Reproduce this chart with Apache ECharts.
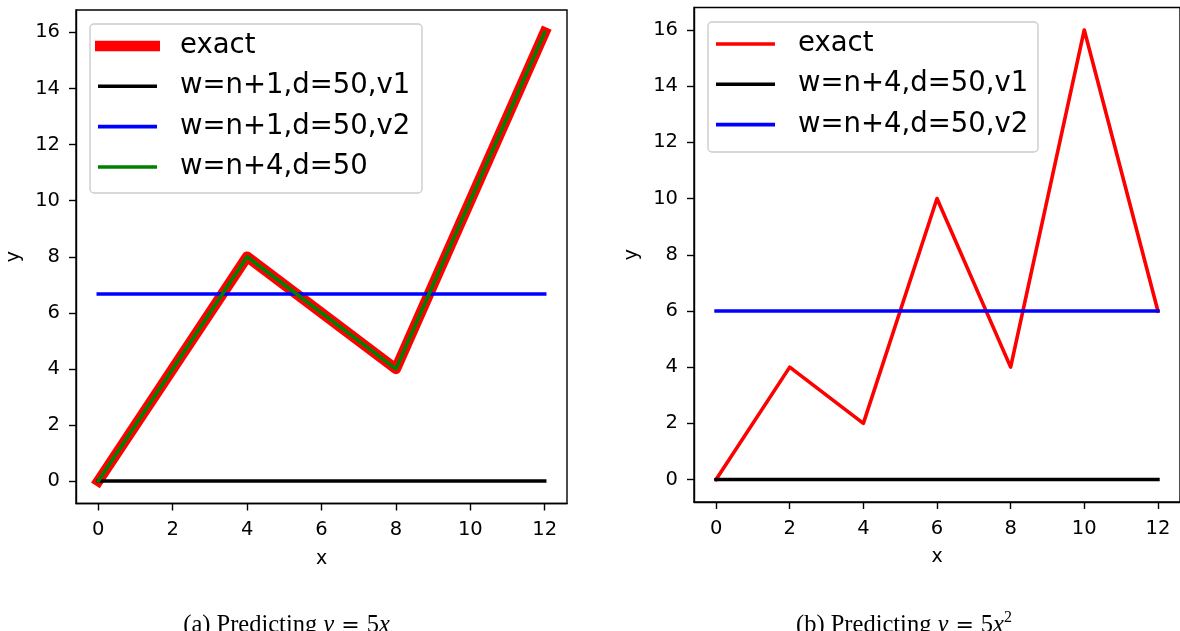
<!DOCTYPE html>
<html>
<head>
<meta charset="utf-8">
<script src="https://cdn.jsdelivr.net/npm/echarts@6/dist/echarts.min.js"></script>
<style>
html,body{margin:0;padding:0;background:#fff;}
#c{width:1180px;height:631px;}
</style>
</head>
<body>
<div id="c"></div>
<script>
// ---- data ----
const xTicks = [0, 2, 4, 6, 8, 10, 12];
const yTicks = [0, 2, 4, 6, 8, 10, 12, 14, 16];

const xA = [0, 4, 8, 12];
const exactA = [0, 8, 4, 16];
const n1v1A = [0, 0, 0, 0];
const n1v2A = [6.67, 6.67, 6.67, 6.67];
const n4A = [0, 8, 4, 16];
const namesA = ['exact', 'w=n+1,d=50,v1', 'w=n+1,d=50,v2', 'w=n+4,d=50'];

const xB = [0, 2, 4, 6, 8, 10, 12];
const exactB = [0, 4, 2, 10, 4, 16, 6];
const n4v1B = [0, 0, 0, 0, 0, 0, 0];
const n4v2B = [6, 6, 6, 6, 6, 6, 6];
const namesB = ['exact ', 'w=n+4,d=50,v1', 'w=n+4,d=50,v2'];

const captionA = '{n|(a) Predicting }{i|y}{e| = }{n|5}{i|x}';
const captionB = '{n|(b) Predicting }{i|y}{e| = }{n|5}{i|x}{s|2}';

// ---- layout ----
const panels = [
  {left: 76, top: 10, width: 491, height: 493.5, boxL: 90, boxT: 24, boxW: 332, boxH: 169, rows: [46, 86.3, 126.6, 167], capX: 286.5},
  {left: 694, top: 7.5, width: 491, height: 494.5, boxL: 708, boxT: 22, boxW: 330, boxH: 130, rows: [44, 84.3, 124.6], capX: 904}
];
const FONT = 'DejaVu Sans';

function pairs(xs, ys) { return xs.map((x, i) => [x, ys[i]]); }

const grids = [], xAxes = [], yAxes = [], series = [], legends = [], graphics = [];

panels.forEach((p, gi) => {
  grids.push({left: p.left, top: p.top, width: p.width, height: p.height, show: true,
    borderColor: '#000', borderWidth: 1.4, backgroundColor: 'transparent'});
  xAxes.push({type: 'value', gridIndex: gi, min: -0.6, max: 12.6,
    name: 'x', nameLocation: 'middle', nameGap: 46,
    nameTextStyle: {fontFamily: FONT, fontSize: 19, color: '#000'},
    axisLine: {show: true, onZero: false, lineStyle: {color: '#000', width: 1.4}},
    axisTick: {show: true, length: 7, lineStyle: {color: '#000', width: 1.4}, customValues: xTicks},
    axisLabel: {fontFamily: FONT, fontSize: 19.5, color: '#000', margin: 16.5, customValues: xTicks},
    splitLine: {show: false}});
  yAxes.push({type: 'value', gridIndex: gi, min: -0.8, max: 16.8,
    name: 'y', nameLocation: 'middle', nameGap: 52,
    nameTextStyle: {fontFamily: FONT, fontSize: 19, color: '#000'},
    axisLine: {show: true, onZero: false, lineStyle: {color: '#000', width: 1.4}},
    axisTick: {show: true, length: 7, lineStyle: {color: '#000', width: 1.4}, customValues: yTicks},
    axisLabel: {fontFamily: FONT, fontSize: 19.5, color: '#000', margin: 16, customValues: yTicks},
    splitLine: {show: false}});
  graphics.push({type: 'rect', z: 50, shape: {x: p.boxL, y: p.boxT, width: p.boxW, height: p.boxH, r: 4},
    style: {fill: 'rgba(255,255,255,0.8)', stroke: '#cccccc', lineWidth: 1.4}});
});

function addLine(gi, name, xs, ys, color, width, z) {
  series.push({type: 'line', name: name, xAxisIndex: gi, yAxisIndex: gi, data: pairs(xs, ys),
    color: color, symbol: 'none', showSymbol: false, z: z, silent: true,
    lineStyle: {color: color, width: width, cap: 'square', join: 'round'},
    itemStyle: {color: color}});
}
addLine(0, namesA[0], xA, exactA, '#ff0000', 10.5, 2);
addLine(0, namesA[1], xA, n1v1A, '#000000', 3.6, 3);
addLine(0, namesA[2], xA, n1v2A, '#0000ff', 3.6, 4);
addLine(0, namesA[3], xA, n4A, '#008000', 3.6, 5);
addLine(1, namesB[0], xB, exactB, '#ff0000', 3.6, 2);
addLine(1, namesB[1], xB, n4v1B, '#000000', 3.6, 3);
addLine(1, namesB[2], xB, n4v2B, '#0000ff', 3.6, 4);

const thick = {'exact': true};
[namesA, namesB].forEach((names, gi) => {
  const p = panels[gi];
  names.forEach((nm, ri) => {
    const isThick = !!thick[nm];
    const iw = isThick ? 65 : 59;
    const ih = isThick ? 10.5 : 3.6;
    const il = isThick ? p.boxL + 5 : p.boxL + 8;
    const pad = p.boxL + 90 - (il + iw + 5);
    legends.push({show: true, data: [nm], left: il, top: p.rows[ri] - 15, padding: 0,
      icon: 'rect', itemWidth: iw, itemHeight: ih, selectedMode: false, z: 60,
      formatter: (n) => n.trim(),
      textStyle: {fontFamily: FONT, fontSize: 27.5, color: '#000', lineHeight: 30, padding: [0, 0, 0, pad]}});
  });
});

const SERIF = 'Liberation Serif';
const rich = {
  n: {fontFamily: SERIF, fontSize: 24.5, color: '#000', lineHeight: 32},
  i: {fontFamily: SERIF, fontSize: 24.5, fontStyle: 'italic', color: '#000', lineHeight: 32},
  e: {fontFamily: 'DejaVu Serif', fontSize: 22, color: '#000', lineHeight: 32},
  s: {fontFamily: SERIF, fontSize: 16, color: '#000', lineHeight: 8, verticalAlign: 'top'}
};
[captionA, captionB].forEach((t, gi) => {
  graphics.push({type: 'text', z: 70, x: panels[gi].capX, y: 626,
    style: {text: t, textAlign: 'center', textVerticalAlign: 'middle', rich: rich}});
});

const chart = echarts.init(document.getElementById('c'), null, {renderer: 'canvas'});
chart.setOption({
  animation: false,
  backgroundColor: '#fff',
  grid: grids, xAxis: xAxes, yAxis: yAxes, series: series, legend: legends, graphic: graphics
});
</script>
</body>
</html>
